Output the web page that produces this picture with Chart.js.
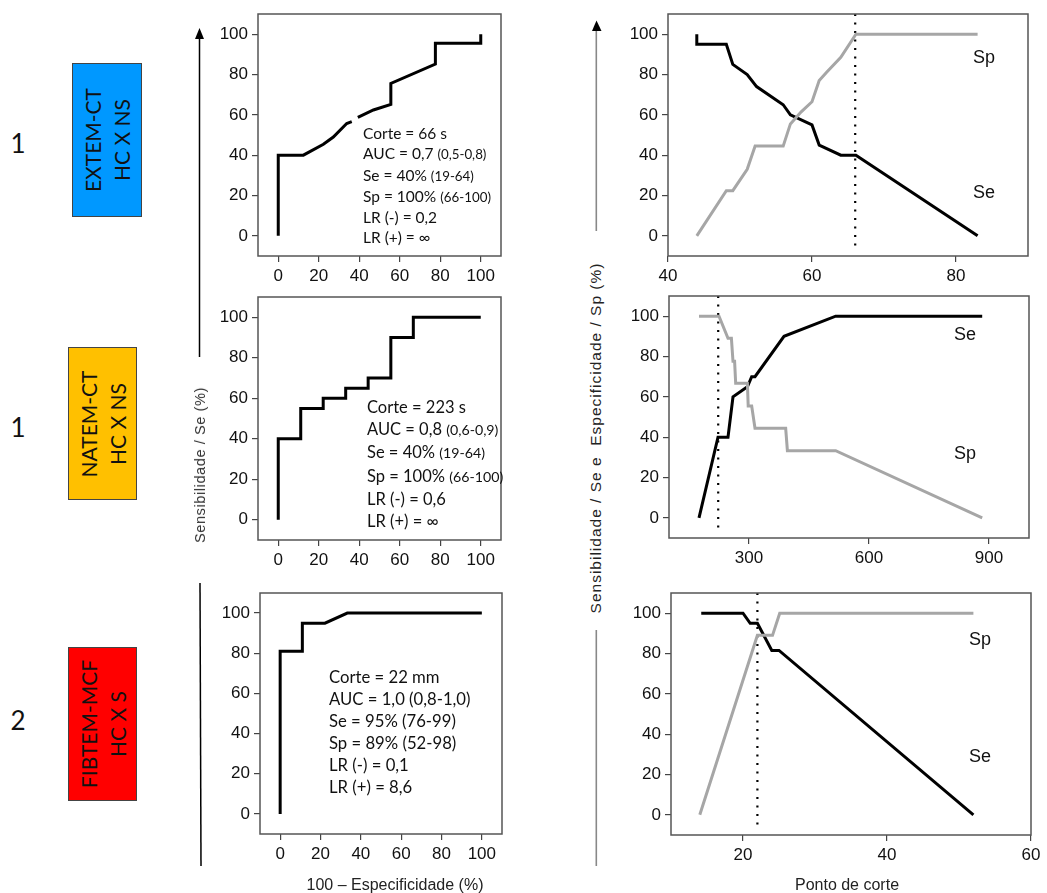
<!DOCTYPE html>
<html><head><meta charset="utf-8">
<script src="https://cdn.jsdelivr.net/npm/chart.js@4.4.1/dist/chart.umd.min.js"></script>
<style>
body{margin:0;width:1047px;height:893px;background:#fff;position:relative;overflow:hidden;font-family:'Liberation Sans',Arial,sans-serif;color:#111;}
canvas{position:absolute;}
.stats{position:absolute;font-family:Lato,'Open Sans',sans-serif;color:#111;white-space:nowrap;}
.stats small{font-size:0.86em;}
.num{position:absolute;font-family:Lato,sans-serif;font-size:26px;transform:translate(-50%,-50%);}
.box{position:absolute;border:1.5px solid #444;box-sizing:border-box;}
.boxtxt{position:absolute;left:50%;top:50%;transform:translate(-50%,-50%) rotate(-90deg);font-family:Lato,sans-serif;font-size:21px;line-height:29px;text-align:center;white-space:nowrap;color:#111;}
.lbl{position:absolute;font-size:18px;transform:translate(-50%,-50%);white-space:nowrap;}
.vt{position:absolute;transform:translate(-50%,-50%) rotate(-90deg);white-space:pre;}
.ht{position:absolute;transform:translate(-50%,-50%);white-space:nowrap;font-size:16px;color:#222;}
</style></head><body>
<svg width="1047" height="893" style="position:absolute;left:0;top:0">
  <line x1="199.5" y1="357" x2="199.5" y2="37" stroke="#000" stroke-width="1.5"/>
  <polygon points="199.5,28 195,39 204,39" fill="#000"/>
  <line x1="200" y1="583" x2="201" y2="866" stroke="#000" stroke-width="1.5"/>
  <line x1="596.3" y1="231" x2="596.3" y2="29" stroke="#888" stroke-width="1.6"/>
  <polygon points="596.5,20.5 592,31 601.5,31" fill="#000"/>
  <line x1="596.3" y1="630" x2="596.3" y2="866" stroke="#888" stroke-width="1.6"/>
</svg>
<script>
// ---------- data ----------
const yTickVals = [0, 20, 40, 60, 80, 100];
const rocTickVals = [0, 20, 40, 60, 80, 100];

// EXTEM-CT ROC
const roc1X = [0, 0, 12.4, 22.3, 27.2, 33.8, 36.3, 37.5, 39.3, 47, 55.6, 55.6, 77.6, 77.6, 100, 100];
const roc1Y = [0, 40, 40, 45.4, 49, 55.7, 56.6, null, 58.7, 62.4, 65.2, 75.6, 85.2, 95.5, 95.5, 100];
// EXTEM-CT Se / Sp vs cut-off
const cut1Ticks = [40, 60, 80];
const se1X = [44, 44, 48.1, 49, 51, 52.3, 56, 57, 60, 61, 64, 66.1, 83];
const se1Y = [100, 95, 95, 85, 80, 74, 65, 60, 55, 45, 40, 40, 0];
const sp1X = [44, 48.1, 49, 51, 52.1, 56, 57, 58.5, 60, 61, 62, 64, 66.1, 83];
const sp1Y = [0, 22.4, 22.4, 33, 44.5, 44.5, 55.5, 61.5, 66.5, 77, 81, 88.5, 100, 100];

// NATEM-CT ROC
const roc2X = [0, 0, 11.1, 11.1, 22.2, 22.2, 33.3, 33.3, 44.4, 44.4, 55.6, 55.6, 66.7, 66.7, 100];
const roc2Y = [0, 40, 40, 55, 55, 60, 60, 65, 65, 70, 70, 90, 90, 100, 100];
// NATEM-CT Se / Sp vs cut-off
const cut2Ticks = [300, 600, 900];
const se2X = [175, 222.5, 247.5, 260, 296, 306.7, 315, 387.5, 516.7, 883];
const se2Y = [0, 40, 40, 60, 65, 70, 70, 90, 100, 100];
const sp2X = [175, 225, 247.5, 256, 260, 264, 266.7, 296, 298, 306.7, 315, 391.7, 396, 516.7, 883];
const sp2Y = [100, 100, 89, 89, 77.6, 77.6, 66.7, 66.7, 55.5, 55.5, 44.4, 44.4, 33.3, 33.3, 0];

// FIBTEM-MCF ROC
const roc3X = [0, 0, 11, 11, 22.2, 33.3, 100];
const roc3Y = [0, 81, 81, 95, 95, 100, 100];
// FIBTEM-MCF Se / Sp vs cut-off
const cut3Ticks = [20, 40, 60];
const se3X = [14.2, 20, 21, 22, 24, 25, 52];
const se3Y = [100, 100, 95, 95, 81.5, 81.5, 0];
const sp3X = [14, 22, 24.1, 25.1, 52];
const sp3Y = [0, 89, 89, 100, 100];

const cutoffs = [66, 223, 22];
const cutLineY = [110, -6];

const groupNums = ['1', '1', '2'];
const groupNames = [['EXTEM-CT', 'HC X NS'], ['NATEM-CT', 'HC X NS'], ['FIBTEM-MCF', 'HC X S']];
const stats1 = ['Corte = 66 s', 'AUC = 0,7 <small>(0,5-0,8)</small>', 'Se = 40% <small>(19-64)</small>', 'Sp = 100% <small>(66-100)</small>', 'LR (-) = 0,2', 'LR (+) = ∞'];
const stats2 = ['Corte = 223 s', 'AUC = 0,8 <small>(0,6-0,9)</small>', 'Se = 40% <small>(19-64)</small>', 'Sp = 100% <small>(66-100)</small>', 'LR (-) = 0,6', 'LR (+) = ∞'];
const stats3 = ['Corte = 22 mm', 'AUC = 1,0 (0,8-1,0)', 'Se = 95% (76-99)', 'Sp = 89% (52-98)', 'LR (-) = 0,1', 'LR (+) = 8,6'];

// ---------- helpers ----------
const pts = (xs, ys) => xs.map((x, i) => ({x: x, y: ys[i]}));
const BLACK = '#000', GRAY = '#a6a6a6';

const boxPlugin = {id: 'box', afterDraw(ch) {
  const a = ch.chartArea, ctx = ch.ctx;
  ctx.save(); ctx.strokeStyle = '#555'; ctx.lineWidth = 1.5;
  ctx.strokeRect(a.left, a.top, a.right - a.left, a.bottom - a.top);
  ctx.restore();
}};

function axisCommon(extra) {
  return Object.assign({
    type: 'linear',
    grid: {display: true, drawOnChartArea: false, drawTicks: true, tickLength: 6, color: '#444', lineWidth: 1.2},
    border: {display: false},
  }, extra);
}

function makeChart(box, xr, xTicks, datasets) {
  const padL = 62, padT = 8, padR = 14, padB = 42;
  const c = document.createElement('canvas');
  c.width = box.w + padL + padR; c.height = box.h + padT + padB;
  c.style.left = (box.l - padL) + 'px'; c.style.top = (box.t - padT) + 'px';
  document.body.appendChild(c);
  new Chart(c, {
    type: 'line',
    data: {datasets: datasets},
    options: {
      responsive: false, animation: false, devicePixelRatio: 1,
      layout: {padding: {left: 0, top: padT, right: padR, bottom: 0}},
      plugins: {legend: {display: false}, tooltip: {enabled: false}},
      elements: {point: {radius: 0}, line: {tension: 0}},
      scales: {
        x: axisCommon({min: xr[0], max: xr[1],
          afterFit(s) { s.height = padB; s.paddingLeft = 0; s.paddingRight = 0; },
          afterBuildTicks(s) { s.ticks = xTicks.map(v => ({value: v})); },
          ticks: {color: '#111', font: {family: 'Liberation Sans', size: 17}, padding: 4, maxRotation: 0, autoSkip: false}}),
        y: axisCommon({min: -10, max: 110,
          afterFit(s) { s.width = padL; s.paddingTop = 0; s.paddingBottom = 0; },
          afterBuildTicks(s) { s.ticks = yTickVals.map(v => ({value: v})); },
          ticks: {color: '#111', font: {family: 'Liberation Sans', size: 17}, padding: 4, autoSkip: false}})
      }
    },
    plugins: [boxPlugin]
  });
}

const line = (data, color) => ({data: data, borderColor: color, borderWidth: 3, pointRadius: 0, fill: false, spanGaps: false, borderJoinStyle: 'miter', borderCapStyle: 'butt'});
const dotted = (x) => ({data: [{x: x, y: cutLineY[0]}, {x: x, y: cutLineY[1]}], borderColor: '#000', borderWidth: 2.2, borderDash: [2, 6.5], pointRadius: 0});

makeChart({l: 258, t: 14, w: 243, h: 242}, [-10, 110], rocTickVals, [line(pts(roc1X, roc1Y), BLACK)]);
makeChart({l: 668, t: 14, w: 360, h: 242}, [40, 90], cut1Ticks, [line(pts(sp1X, sp1Y), GRAY), line(pts(se1X, se1Y), BLACK), dotted(cutoffs[0])]);
makeChart({l: 258, t: 297, w: 243, h: 243}, [-10, 110], rocTickVals, [line(pts(roc2X, roc2Y), BLACK)]);
makeChart({l: 669, t: 296, w: 360, h: 242}, [100, 1000], cut2Ticks, [line(pts(sp2X, sp2Y), GRAY), line(pts(se2X, se2Y), BLACK), dotted(cutoffs[1])]);
makeChart({l: 260, t: 593, w: 242, h: 241}, [-10, 110], rocTickVals, [line(pts(roc3X, roc3Y), BLACK)]);
makeChart({l: 671, t: 593, w: 360, h: 242}, [10, 60], cut3Ticks, [line(pts(sp3X, sp3Y), GRAY), line(pts(se3X, se3Y), BLACK), dotted(cutoffs[2])]);

// ---------- text ----------
function addEl(cls, html, style) {
  const d = document.createElement('div'); d.className = cls; d.innerHTML = html;
  Object.assign(d.style, style); document.body.appendChild(d); return d;
}
addEl('stats', stats1.join('<br>'), {left: '363px', top: '123px', fontSize: '15.5px', lineHeight: '20.3px'});
addEl('stats', stats2.join('<br>'), {left: '367px', top: '396px', fontSize: '16.5px', lineHeight: '22.2px'});
addEl('stats', stats3.join('<br>'), {left: '329px', top: '666px', fontSize: '16.7px', lineHeight: '22.1px'});

const numPos = [[18, 143], [18, 427], [18, 720]];
numPos.forEach((p, i) => addEl('num', groupNums[i], {left: p[0] + 'px', top: p[1] + 'px'}));

const boxes = [{l: 72, t: 63, w: 70, h: 154, c: '#0098ff'}, {l: 68, t: 347, w: 69, h: 153, c: '#ffc000'}, {l: 68, t: 647, w: 69, h: 154, c: '#ff0000'}];
boxes.forEach((b, i) => {
  const d = addEl('box', '', {left: b.l + 'px', top: b.t + 'px', width: b.w + 'px', height: b.h + 'px', background: b.c});
  const t = document.createElement('div'); t.className = 'boxtxt'; t.innerHTML = groupNames[i].join('<br>');
  d.appendChild(t);
});

addEl('lbl', 'Sp', {left: '984px', top: '57px'});
addEl('lbl', 'Se', {left: '984px', top: '192px'});
addEl('lbl', 'Se', {left: '965px', top: '334px'});
addEl('lbl', 'Sp', {left: '965px', top: '453px'});
addEl('lbl', 'Sp', {left: '980px', top: '639px'});
addEl('lbl', 'Se', {left: '980px', top: '756px'});

addEl('vt', 'Sensibilidade / Se (%)', {left: '200px', top: '465px', fontSize: '14.5px', letterSpacing: '0.6px', color: '#333'});
addEl('vt', 'Sensibilidade / Se e  Especificidade / Sp (%)', {left: '596px', top: '438px', fontSize: '15.5px', letterSpacing: '1px', color: '#222'});
addEl('ht', '100 – Especificidade (%)', {left: '395px', top: '885px'});
addEl('ht', 'Ponto de corte', {left: '847px', top: '885px'});
</script>
</body></html>
